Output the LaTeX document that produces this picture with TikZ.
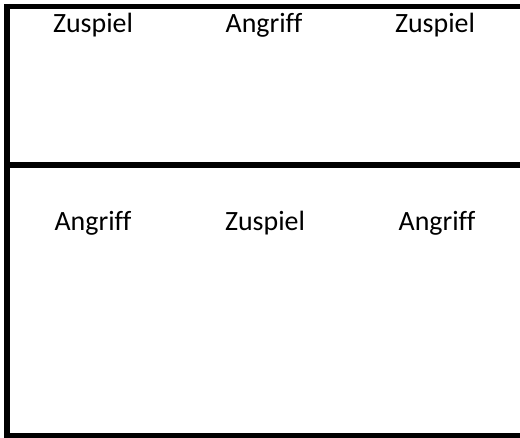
\documentclass[tikz,border=0pt]{standalone}
\usepackage{fontspec}
\setmainfont[Ligatures={NoCommon}]{Carlito}
\begin{document}
\begin{tikzpicture}[x=1bp,y=-1bp,
  lbl/.style={font=\fontsize{28}{32}\selectfont, anchor=base, inner sep=0pt},
  rule/.style={line width=#1, line cap=butt}]
\useasboundingbox (0,0) rectangle (520,438);
\fill[white] (0,0) rectangle (520,438);
% frame lines
\draw[rule=5bp] (4,6.5) -- (520,6.5);
\draw[rule=6bp] (7,4) -- (7,438);
\draw[rule=6bp] (4,165) -- (520,165);
\draw[rule=5bp] (4,435.5) -- (520,435.5);
% labels
\node[lbl] (t1) at (93,33) {Zuspiel};
\node[lbl] (t2) at (264,33) {Angriff};
\node[lbl] (t3) at (435,33) {Zuspiel};
\node[lbl] (b1) at (93,230.5) {Angriff};
\node[lbl] (b2) at (265,230.5) {Zuspiel};
\node[lbl] (b3) at (437,230.5) {Angriff};
\end{tikzpicture}
\end{document}
